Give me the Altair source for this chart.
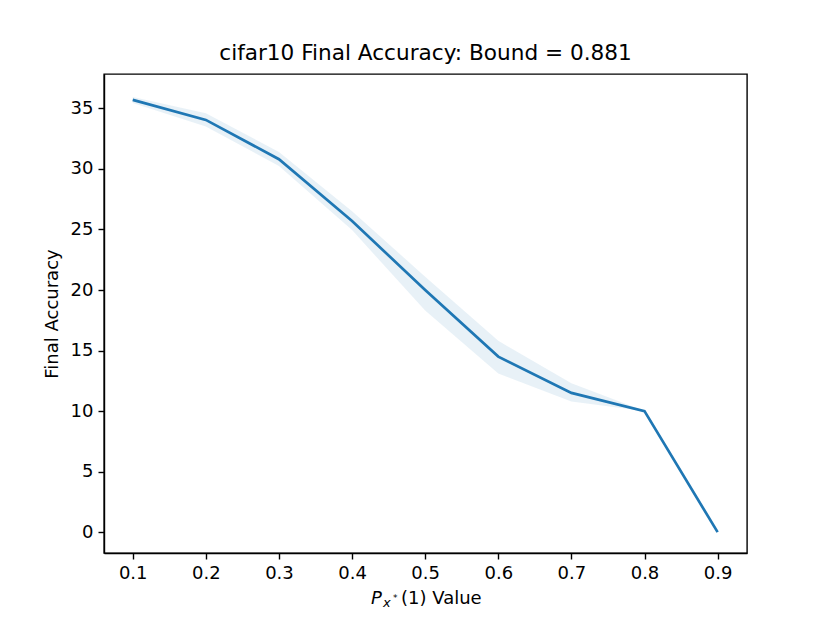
import altair as alt
import pandas as pd

# data
p_values = [0.1, 0.2, 0.3, 0.4, 0.5, 0.6, 0.7, 0.8, 0.9]
mean_acc = [35.7, 34.05, 30.8, 25.7, 20.0, 14.5, 11.5, 10.0, 0.0]
low_acc = [35.45, 33.5, 30.25, 24.95, 18.3, 13.1, 10.8, 10.0, 0.0]
high_acc = [35.95, 34.6, 31.4, 26.5, 21.1, 15.8, 12.3, 10.0, 0.0]
x_ticks = [0.1, 0.2, 0.3, 0.4, 0.5, 0.6, 0.7, 0.8, 0.9]
y_ticks = [0, 5, 10, 15, 20, 25, 30, 35]

df = pd.DataFrame({"p": p_values, "mean": mean_acc, "lo": low_acc, "hi": high_acc})

FONT = "DejaVu Sans"
BLUE = "#1f77b4"
W, H = 643, 479

xscale = alt.Scale(domain=[0.0607, 0.9402], nice=False, zero=False)
yscale = alt.Scale(domain=[-1.72, 37.84], nice=False, zero=False)

common = dict(grid=False, tickColor="black", domainColor="black", tickSize=6,
              tickWidth=1.4, domainWidth=1.4, labelFontSize=18, labelFont=FONT,
              labelColor="black", labelPadding=5, labelFlush=False)
xaxis = alt.Axis(values=x_ticks, format=".1f", title=None, **common)
yaxis = alt.Axis(values=y_ticks, format="d", title="Final Accuracy",
                 titleFont=FONT, titleFontSize=18, titleFontWeight="normal",
                 titleColor="black", titlePadding=9, **common)

base = alt.Chart(df)

band = base.mark_area(color=BLUE, opacity=0.1, interpolate="linear").encode(
    x=alt.X("p:Q", scale=xscale, axis=xaxis),
    y=alt.Y("lo:Q", scale=yscale, axis=yaxis),
    y2="hi:Q",
)

line = base.mark_line(color=BLUE, strokeWidth=2.7).encode(
    x=alt.X("p:Q", scale=xscale),
    y=alt.Y("mean:Q", scale=yscale),
)

# x-axis label: P_{x*}(1) Value
lab = pd.DataFrame({"t": ["P"]})
lab_P = alt.Chart(lab).mark_text(text="P", font=FONT, fontSize=18, fontStyle="italic",
                                 align="left", baseline="alphabetic", color="black").encode(
    x=alt.value(267), y=alt.value(530))
lab_x = alt.Chart(lab).mark_text(text="x", font=FONT, fontSize=13, fontStyle="italic",
                                 align="left", baseline="alphabetic", color="black").encode(
    x=alt.value(279), y=alt.value(533))
lab_s = alt.Chart(lab).mark_text(text="*", font=FONT, fontSize=9,
                                 align="left", baseline="alphabetic", color="black").encode(
    x=alt.value(289), y=alt.value(527))
lab_rest = alt.Chart(lab).mark_text(text="(1) Value", font=FONT, fontSize=18,
                                    align="left", baseline="alphabetic", color="black").encode(
    x=alt.value(297), y=alt.value(530))

chart = alt.layer(band, line, lab_P, lab_x, lab_s, lab_rest).properties(
    width=W, height=H,
    title=alt.TitleParams("cifar10 Final Accuracy: Bound = 0.881", font=FONT, fontSize=21.6,
                          fontWeight="normal", color="black", anchor="middle", offset=9),
    autosize=alt.AutoSizeParams(type="none"),
    padding={"left": 96, "top": 66, "right": 75, "bottom": 62},
).configure(background="white").configure_view(stroke="black", strokeWidth=1.4)

chart.save("out.html", embed_options={"renderer": "svg", "actions": False})
